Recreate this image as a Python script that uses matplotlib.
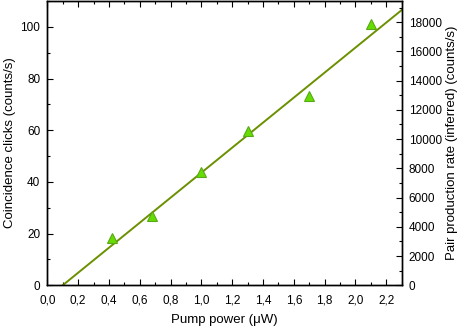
import matplotlib
matplotlib.use("Agg")
import matplotlib.pyplot as plt
import numpy as np
from matplotlib.ticker import MultipleLocator, FuncFormatter

plt.rcParams['font.family'] = ['Liberation Sans', 'DejaVu Sans']

# Data
pump_power = [0.42, 0.68, 1.0, 1.3, 1.7, 2.1]
coincidences = [18.2, 26.8, 43.9, 59.8, 73.2, 100.9]
fit_slope = 48.4
fit_x0 = 0.1
inferred_factor = 176.8

fig = plt.figure(figsize=(4.58, 3.26), dpi=100)
ax = fig.add_axes([0.1033, 0.125, 0.7737, 0.872])

xfit = np.array([fit_x0, 2.3])
ax.plot(xfit, fit_slope * (xfit - fit_x0), color='#6b9000', lw=1.4, zorder=2)
ax.plot(pump_power, coincidences, linestyle='none', marker='^', markersize=7.5,
        markerfacecolor='#66dd00', markeredgecolor='#58a818', markeredgewidth=0.8, zorder=3)

ax.set_xlim(0, 2.3)
ax.set_ylim(0, 110)
ax.xaxis.set_major_locator(MultipleLocator(0.2))
ax.xaxis.set_minor_locator(MultipleLocator(0.1))
ax.yaxis.set_major_locator(MultipleLocator(20))
ax.yaxis.set_minor_locator(MultipleLocator(10))
ax.xaxis.set_major_formatter(FuncFormatter(lambda v, p: f"{v:.1f}".replace('.', ',')))

ax.tick_params(which='both', direction='in', top=True, right=False, labelsize=8.5, width=0.8)
ax.tick_params(which='major', length=4)
ax.tick_params(which='minor', length=2.2)
ax.tick_params(axis='x', which='major', pad=7)
ax.tick_params(axis='y', which='major', pad=5)
ax.set_xlabel('Pump power (μW)', fontsize=9.5, labelpad=5)
ax.set_ylabel('Coincidence clicks (counts/s)', fontsize=9.5, labelpad=3)

ax2 = ax.twinx()
ax2.set_ylim(0, 110 * inferred_factor)
ax2.yaxis.set_major_locator(MultipleLocator(2000))
ax2.yaxis.set_minor_locator(MultipleLocator(1000))
ax2.tick_params(which='both', direction='in', labelsize=8.5, width=0.8)
ax2.tick_params(which='major', length=4, pad=5)
ax2.tick_params(which='minor', length=2.2)
ax2.set_ylabel('Pair production rate (inferred) (counts/s)', fontsize=9.5, labelpad=3)

for a in (ax, ax2):
    for s in a.spines.values():
        s.set_linewidth(1.0)

fig.savefig('out.png', dpi=100)
